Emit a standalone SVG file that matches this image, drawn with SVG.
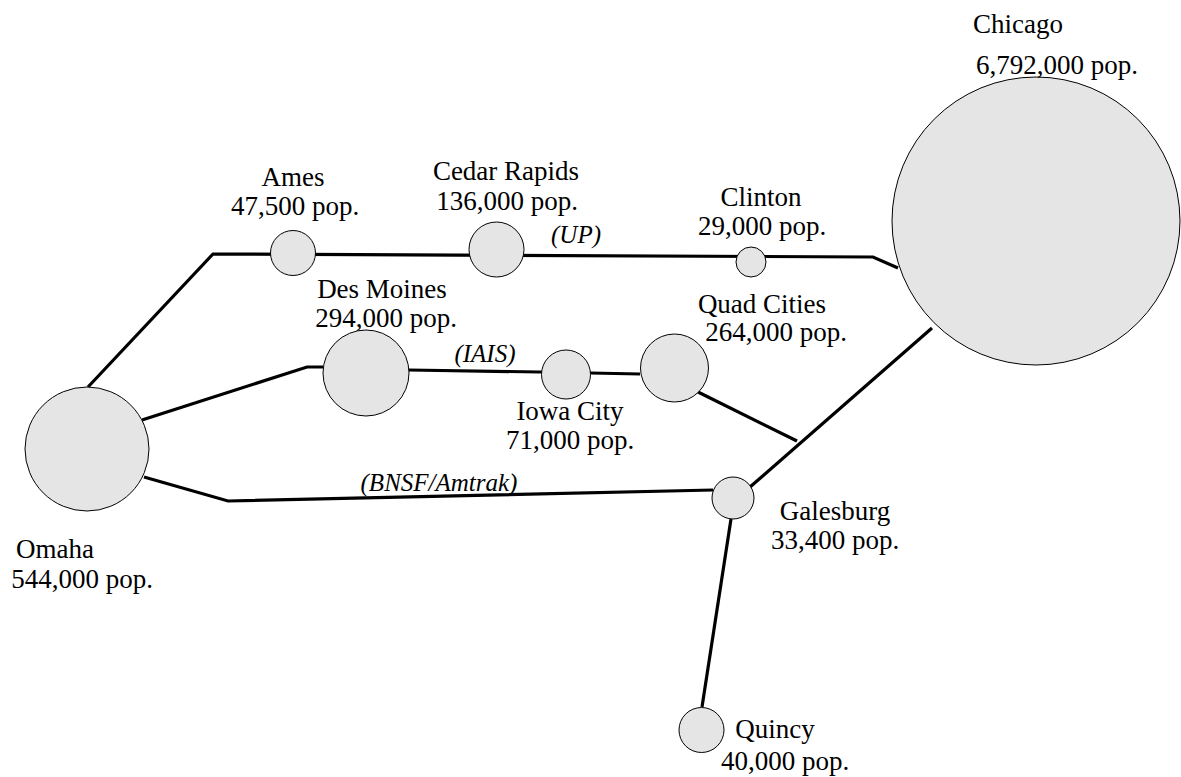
<svg xmlns="http://www.w3.org/2000/svg" width="1181" height="777" viewBox="0 0 1181 777">
<style>
.city{fill:#e5e5e5;stroke:#000;stroke-width:1}
.rail{fill:none;stroke:#000;stroke-width:3.2;stroke-linejoin:miter}
text{font-family:"Liberation Serif","Times New Roman",serif;font-size:27px;fill:#000;text-anchor:middle}
.it{font-style:italic;font-size:25px}
</style>
<rect width="1181" height="777" fill="#fff"/>
<g id="connectors">
<polyline class="rail" points="88,387 213,254 873,257 898,268"/>
<polyline class="rail" points="142,420 307,367 323,367"/>
<polyline class="rail" points="409,370 540,372 640,374"/>
<polyline class="rail" points="698,392 797,441"/>
<polyline class="rail" points="932,328 750,487"/>
<polyline class="rail" points="144,477 228,501 713,490"/>
<polyline class="rail" points="731,519 702,707"/>
<text class="it" x="576" y="243">(UP)</text>
<text class="it" x="485" y="362">(IAIS)</text>
<text class="it" x="439" y="491">(BNSF/Amtrak)</text>
</g>
<g id="omaha"><circle class="city" cx="87" cy="449" r="62"/><text x="55" y="558">Omaha</text><text x="82" y="588">544,000 pop.</text></g>
<g id="chicago"><circle class="city" cx="1036" cy="221" r="144"/><text x="1018" y="33">Chicago</text><text x="1057" y="74">6,792,000 pop.</text></g>
<g id="ames"><circle class="city" cx="293" cy="253" r="22.5"/><text x="293" y="186">Ames</text><text x="295" y="215">47,500 pop.</text></g>
<g id="desmoines"><circle class="city" cx="366" cy="373" r="43"/><text x="382" y="298">Des Moines</text><text x="386" y="327">294,000 pop.</text></g>
<g id="cedarrapids"><circle class="city" cx="496.5" cy="249.5" r="27.5"/><text x="506" y="180">Cedar Rapids</text><text x="507" y="210">136,000 pop.</text></g>
<g id="clinton"><circle class="city" cx="751" cy="262" r="15"/><text x="761" y="206">Clinton</text><text x="762" y="235">29,000 pop.</text></g>
<g id="iowacity"><circle class="city" cx="566" cy="374.5" r="24.5"/><text x="570" y="420">Iowa City</text><text x="570" y="449">71,000 pop.</text></g>
<g id="quadcities"><circle class="city" cx="674.5" cy="368" r="34"/><text x="762" y="313">Quad Cities</text><text x="776" y="341">264,000 pop.</text></g>
<g id="galesburg"><circle class="city" cx="733" cy="498" r="21"/><text x="835" y="520">Galesburg</text><text x="835" y="549">33,400 pop.</text></g>
<g id="quincy"><circle class="city" cx="701.5" cy="730" r="22.5"/><text x="775" y="738">Quincy</text><text x="785" y="770">40,000 pop.</text></g>
</svg>
